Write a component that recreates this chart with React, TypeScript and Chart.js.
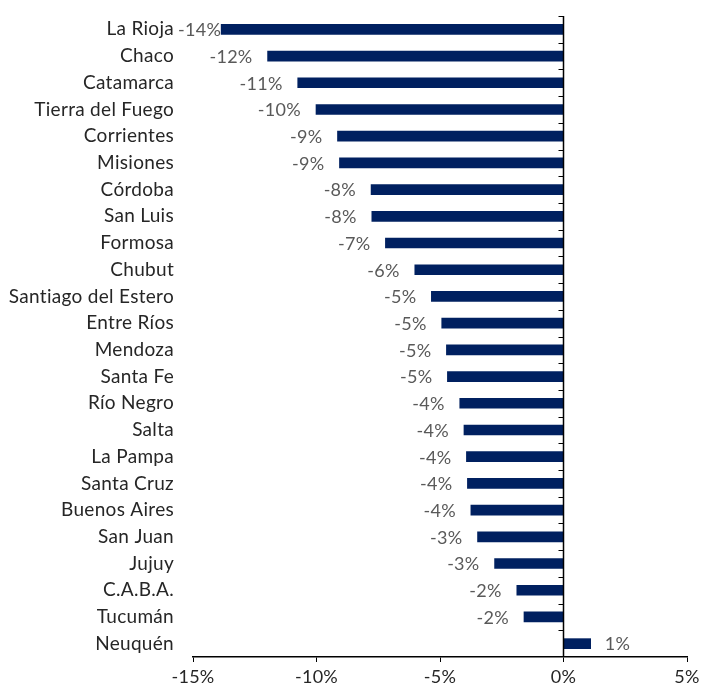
import React, { useEffect, useRef } from "react";
import { Chart, registerables } from "chart.js";

Chart.register(...registerables);

const categories = [
  "La Rioja", "Chaco", "Catamarca", "Tierra del Fuego", "Corrientes", "Misiones",
  "Córdoba", "San Luis", "Formosa", "Chubut", "Santiago del Estero", "Entre Ríos",
  "Mendoza", "Santa Fe", "Río Negro", "Salta", "La Pampa", "Santa Cruz",
  "Buenos Aires", "San Juan", "Jujuy", "C.A.B.A.", "Tucumán", "Neuquén",
];

const values = [
  -13.86, -11.98, -10.76, -10.02, -9.15, -9.07,
  -7.79, -7.76, -7.21, -6.02, -5.35, -4.93,
  -4.74, -4.70, -4.20, -4.03, -3.93, -3.89,
  -3.75, -3.48, -2.79, -1.89, -1.60, 1.10,
];

const xMin = -15;
const xMax = 5;
const xStep = 5;

const FONT = "Lato";
const BAR_COLOR = "#002060";
const TEXT_DARK = "#262626";
const LABEL_GRAY = "#595959";

const spacingPlugin = {
  id: "spacing",
  beforeDraw(chart: any) {
    try {
      chart.ctx.letterSpacing = "0.3px";
    } catch (e) {}
  },
};

const zeroAxisPlugin = {
  id: "zeroAxis",
  afterDatasetsDraw(chart: any) {
    const { ctx, chartArea, scales } = chart;
    const x = scales.x;
    const y = scales.y;
    const x0 = x.getPixelForValue(0);
    ctx.save();
    ctx.strokeStyle = "#000000";
    ctx.lineWidth = 1.5;
    ctx.beginPath();
    ctx.moveTo(x0, chartArea.top);
    ctx.lineTo(x0, chartArea.bottom);
    ctx.stroke();
    ctx.lineWidth = 1;
    const step = y.getPixelForValue(1) - y.getPixelForValue(0);
    ctx.beginPath();
    for (let i = 0; i < categories.length; i++) {
      const b = Math.round(y.getPixelForValue(i) - step / 2) + 0.5;
      ctx.moveTo(x0 - 5, b);
      ctx.lineTo(x0, b);
    }
    ctx.stroke();

    // data labels
    ctx.font = `18px ${FONT}`;
    ctx.fillStyle = LABEL_GRAY;
    ctx.textBaseline = "middle";
    const meta = chart.getDatasetMeta(0);
    meta.data.forEach((bar: any, i: number) => {
      const v = values[i];
      const text = Math.round(v) + "%";
      const w = ctx.measureText(text).width;
      if (v < 0) {
        ctx.textAlign = "right";
        const xr = Math.max(bar.x - 15, 178 + w);
        ctx.fillText(text, xr, bar.y + 1);
      } else {
        ctx.textAlign = "left";
        ctx.fillText(text, bar.x + 14, bar.y + 1);
      }
    });
    ctx.restore();
  },
};

export default function App() {
  const ref = useRef<HTMLCanvasElement | null>(null);

  useEffect(() => {
    if (!ref.current) return;
    const chart = new Chart(ref.current, {
      type: "bar",
      data: {
        labels: categories,
        datasets: [
          {
            data: values,
            backgroundColor: BAR_COLOR,
            borderWidth: 0,
            barThickness: 10,
          },
        ],
      },
      options: {
        indexAxis: "y",
        animation: false,
        responsive: false,
        maintainAspectRatio: false,
        layout: { padding: { top: 16, right: 15, left: 0, bottom: 0 } },
        plugins: {
          legend: { display: false },
          tooltip: { enabled: false },
        },
        scales: {
          x: {
            type: "linear",
            min: xMin,
            max: xMax,
            afterFit: (s: any) => {
              s.height = 36;
              s.paddingLeft = 0;
              s.paddingRight = 0;
            },
            ticks: {
              stepSize: xStep,
              callback: (v: any) => v + "%",
              font: { family: FONT, size: 18 },
              color: TEXT_DARK,
              padding: 4,
            },
            grid: {
              display: true,
              drawOnChartArea: false,
              drawTicks: true,
              tickLength: 5,
              color: "#000000",
            },
            border: { display: true, color: "#000000", width: 1.5 },
          },
          y: {
            type: "category",
            afterFit: (s: any) => {
              s.width = 193;
              s.paddingTop = 0;
              s.paddingBottom = 0;
            },
            ticks: {
              font: { family: FONT, size: 19 },
              color: TEXT_DARK,
              padding: 19,
              autoSkip: false,
            },
            grid: { display: false, drawTicks: false },
            border: { display: false },
          },
        },
      },
      plugins: [spacingPlugin, zeroAxisPlugin],
    });
    return () => chart.destroy();
  }, []);

  return (
    <div style={{ position: "absolute", left: 0, top: 0, width: 702, height: 693, background: "#ffffff" }}>
      <canvas ref={ref} width={702} height={693} style={{ display: "block" }} />
    </div>
  );
}
